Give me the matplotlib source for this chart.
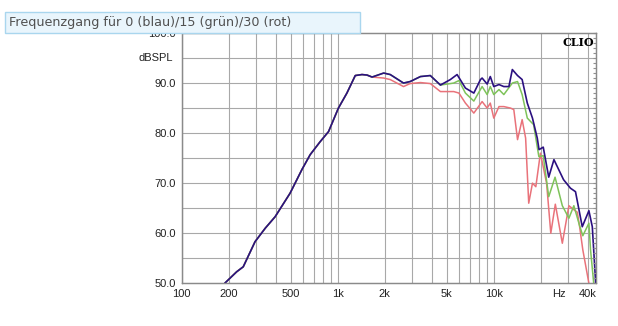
import numpy as np
import matplotlib
matplotlib.use('Agg')
import matplotlib.pyplot as plt
from matplotlib.patches import Rectangle

# --- data ---
blue_f = [190, 225, 248, 295, 343, 397, 495, 589, 666, 772, 873, 1010, 1145, 1295,
          1430, 1540, 1660, 1970, 2170, 2640, 2910, 3390, 3920, 4550, 5270, 5820,
          6580, 7450, 8220, 8420, 9070, 9500, 10000, 10800, 11600, 12500, 13150,
          14200, 15200, 16400, 17700, 19000, 19500, 20750, 22500, 24300, 28000,
          31000, 33400, 36900, 40700, 42800, 45000]
blue_db = [50.1, 52.3, 53.3, 58.3, 61.0, 63.3, 68.0, 72.7, 75.7, 78.3, 80.3, 85.0, 88.0, 91.5,
           91.7, 91.6, 91.2, 92.0, 91.7, 90.0, 90.3, 91.3, 91.5, 89.6, 90.7, 91.7,
           89.0, 88.0, 90.7, 91.0, 89.8, 91.3, 89.3, 89.7, 89.3, 89.3, 92.7,
           91.5, 90.7, 86.0, 83.0, 79.0, 76.7, 77.2, 71.2, 74.7, 70.7,
           69.0, 68.3, 61.3, 64.5, 61.3, 50.0]

green_f = [4550, 5540, 5980, 6580, 7450, 8420, 9070, 9500, 10000, 10800, 11600, 13150,
           14200, 15200, 16400, 18000, 19450, 20750, 22500, 24700, 27500, 30300,
           32600, 35500, 37200, 40700, 41700, 43700]
green_db = [89.6, 90.0, 90.5, 88.0, 86.4, 89.3, 87.7, 89.3, 87.7, 88.7, 87.7, 90.0,
            90.3, 87.7, 83.0, 81.7, 75.3, 75.5, 67.3, 71.2, 65.5, 63.0,
            65.5, 61.5, 59.5, 62.0, 56.7, 50.0]

red_f = [1660, 1970, 2170, 2640, 2910, 3390, 3920, 4550, 5540, 5980, 6580, 7450, 8420,
         9070, 9500, 10000, 10800, 11600, 12800, 13440, 14200, 15200, 16000, 16750,
         17700, 18600, 19900, 21800, 23200, 24800, 27500, 30300, 32600, 34300, 35500,
         37200, 40700]
red_db = [91.2, 91.0, 90.7, 89.3, 89.9, 90.1, 89.9, 88.3, 88.3, 88.0, 86.0, 84.0, 86.3,
          85.0, 86.0, 83.0, 85.3, 85.3, 85.0, 84.7, 78.7, 82.7, 79.0, 66.0,
          70.0, 69.3, 76.0, 70.0, 60.0, 65.8, 58.0, 65.5, 64.7, 64.2, 61.3,
          56.7, 50.0]

# green and red follow the blue curve below where they split off
n_g, n_r = len(green_f), len(red_f)
green_f = [f for f in blue_f if f < green_f[0]] + green_f
green_db = blue_db[:len(green_f) - n_g] + green_db
red_f = [f for f in blue_f if f < red_f[0]] + red_f
red_db = blue_db[:len(red_f) - n_r] + red_db

xtick_pos = [100, 200, 500, 1000, 2000, 5000, 10000, 26000, 40000]
xtick_lab = ['100', '200', '500', '1k', '2k', '5k', '10k', 'Hz', '40k']
xgrid = [100, 200, 300, 400, 500, 600, 700, 800, 900,
         1000, 2000, 3000, 4000, 5000, 6000, 7000, 8000, 9000,
         10000, 20000, 30000, 40000]
ygrid = list(range(55, 100, 5))

fig = plt.figure(figsize=(6.18, 3.26), dpi=100)
ax = fig.add_axes([181.7 / 618, 1 - 283.3 / 326, 414 / 618, 250.3 / 326])

for f in xgrid:
    ax.axvline(f, color='#a8a8a8', lw=0.8, zorder=1)
for v in ygrid:
    ax.axhline(v, color='#a8a8a8', lw=0.8, zorder=1)

ax.plot(red_f, red_db, color='#e9727a', lw=1.1, zorder=3)
ax.plot(green_f, green_db, color='#7ec35a', lw=1.1, zorder=4)
ax.plot(blue_f, blue_db, color='#2b1080', lw=1.2, zorder=5)

ax.set_xscale('log')
ax.set_xlim(100, 45000)
ax.set_ylim(50, 100)

ax.set_xticks(xtick_pos)
ax.set_xticklabels(xtick_lab)
ax.set_xticks([], minor=True)
ax.set_yticks(np.arange(50, 101, 10))
ax.set_yticklabels([f'{v:.1f}' for v in np.arange(50, 101, 10)])
ax.tick_params(which='both', length=0, labelsize=8, colors='#222222', pad=4)
for lab in ax.get_xticklabels() + ax.get_yticklabels():
    lab.set_family('Liberation Sans')

# small inward ticks on the right edge
axr = ax.twinx()
axr.set_ylim(50, 100)
axr.set_yticks(np.arange(50, 101, 1))
axr.tick_params(direction='in', length=2.5, color='#909090', labelright=False)

for a in (ax, axr):
    for s in a.spines.values():
        s.set_color('#8a8a8a')
        s.set_linewidth(0.9)

ax.text(-0.02, 0.9, 'dBSPL', transform=ax.transAxes, ha='right', va='center',
        fontsize=8, family='Liberation Sans', color='#222222')
ax.text(0.995, 0.985, 'CLIO', transform=ax.transAxes, ha='right', va='top',
        fontsize=8, family='DejaVu Serif', fontweight='bold')

# title box over the top left
fig.patches.append(Rectangle((5 / 618, 1 - 33 / 326), 355 / 618, 21 / 326,
                             transform=fig.transFigure, facecolor='#e9f5fc',
                             edgecolor='#a9d6ee', lw=1, zorder=10))
fig.text(9 / 618, 1 - 22.5 / 326, 'Frequenzgang für 0 (blau)/15 (grün)/30 (rot)',
         fontsize=9.2, color='#505050', va='center', ha='left', zorder=11)

fig.savefig('out.png', dpi=100)
